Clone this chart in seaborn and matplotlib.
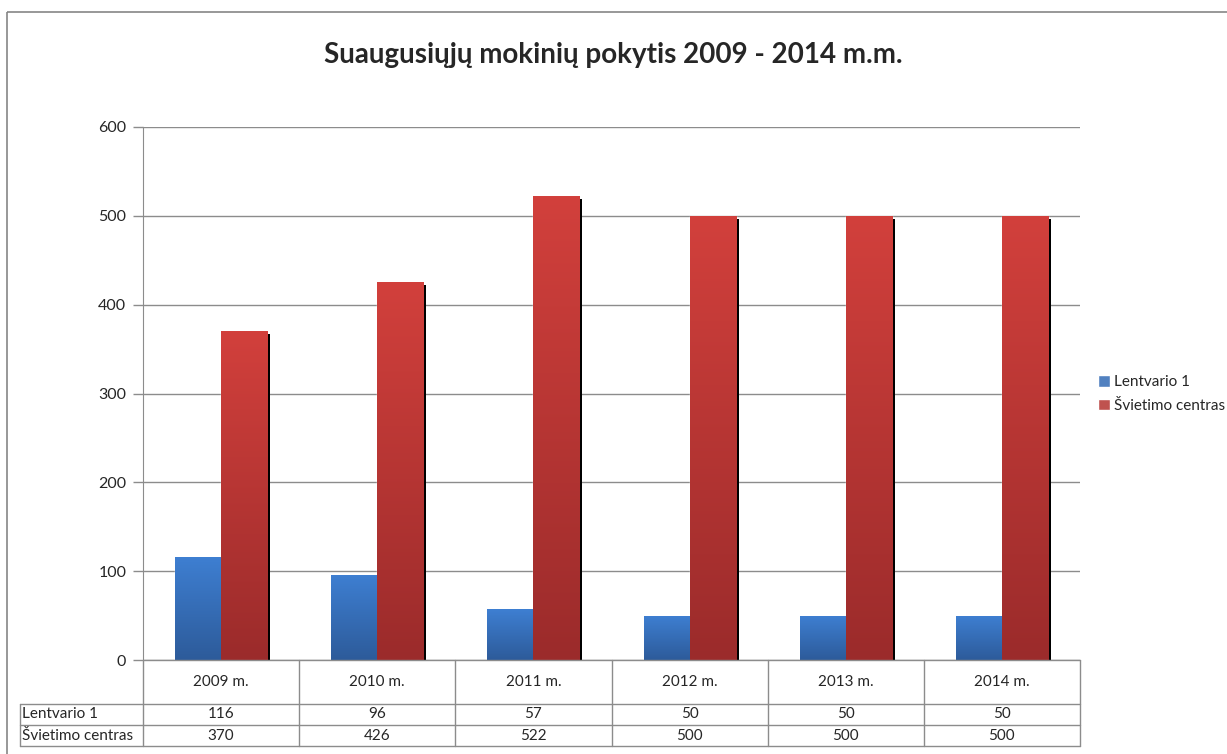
import numpy as np
import pandas as pd
import matplotlib
matplotlib.use("Agg")
import matplotlib.pyplot as plt
import matplotlib.transforms as mtransforms
from matplotlib.colors import LinearSegmentedColormap
from matplotlib.patches import Rectangle
from matplotlib.lines import Line2D
import seaborn as sns

# Data
years = ["2009 m.", "2010 m.", "2011 m.", "2012 m.", "2013 m.", "2014 m."]
series = ["Lentvario 1", "Švietimo centras"]
lentvario = [116, 96, 57, 50, 50, 50]
svietimo = [370, 426, 522, 500, 500, 500]

df = pd.DataFrame({
    "year": years * 2,
    "series": [series[0]] * len(years) + [series[1]] * len(years),
    "value": lentvario + svietimo,
})

sns.set_style("white")
plt.rcParams["font.family"] = ["Lato", "DejaVu Sans"]

W, H = 1227, 754
fig = plt.figure(figsize=(W / 100, H / 100), dpi=100)
L, R, T, B = 143, 1080, 127, 660
ax = fig.add_axes([L / W, 1 - B / H, (R - L) / W, (B - T) / H])

# pixel coords (top-left origin) -> figure
px = mtransforms.Affine2D().scale(1 / W, -1 / H).translate(0, 1) + fig.transFigure
grid_col = "#8c8c8c"

# outer chart frame
fig.patches.append(Rectangle((7, 12), 1300, 800, transform=px, fill=False,
                             edgecolor="#868686", linewidth=1.2))

blue_top, blue_bot = "#3e7fd2", "#2d5b9a"
red_top, red_bot = "#d2403c", "#9b2b2b"

sns.barplot(data=df, x="year", y="value", hue="series", ax=ax, width=0.59,
            palette=[blue_top, red_top], legend=True, zorder=3)

ax.set_yticks(range(0, 601, 100))
ax.yaxis.grid(True, color=grid_col, linewidth=1, zorder=0)
ax.set_axisbelow(True)
for s in ["top", "right", "bottom"]:
    ax.spines[s].set_visible(False)
ax.spines["left"].set_color(grid_col)
ax.tick_params(axis="y", length=7, width=1, color=grid_col, left=True, labelsize=11.5, pad=5)
ax.set_xticks([])
ax.set_xlabel("")
ax.set_ylabel("")

# gradient fills and shadows
n = len(years)
shift = ax.transData + mtransforms.ScaledTranslation(3 / 100, -3 / 100, fig.dpi_scale_trans)
for i, bar in enumerate(ax.patches[:2 * n]):
    top, bot = (blue_top, blue_bot) if i < n else (red_top, red_bot)
    cmap = LinearSegmentedColormap.from_list("g", [bot, top])
    x0, y0 = bar.get_x(), bar.get_y()
    w, h = bar.get_width(), bar.get_height()
    if i >= n:
        ax.add_patch(Rectangle((x0, y0), w, h, facecolor="black", edgecolor="none",
                               zorder=3.3, transform=shift))
    grad = np.linspace(0, 1, 256).reshape(-1, 1)
    im = ax.imshow(grad, cmap=cmap, origin="lower", aspect="auto",
                   extent=[x0, x0 + w, y0, y0 + h], zorder=3.5 if i >= n else 3.2)
    im.set_clip_path(bar)
ax.set_xlim(-0.5, n - 0.5)
ax.set_ylim(0, 600)

# legend
handles, labels = ax.get_legend_handles_labels()
ax.legend(handles, labels, loc="center left", bbox_to_anchor=(1092, 394),
          bbox_transform=px, frameon=False, fontsize=11, handlelength=0.75,
          handleheight=0.75, handletextpad=0.3, labelspacing=0.6, borderaxespad=0)

# data table drawn by hand
rows_y = [B, 704, 725, 746]
colw = (R - L) / n
def hline(y, x0, x1):
    fig.lines.append(Line2D([x0, x1], [y, y], transform=px, color=grid_col, lw=1))
def vline(x, y0, y1):
    fig.lines.append(Line2D([x, x], [y0, y1], transform=px, color=grid_col, lw=1))

hline(B, L, R)
for y in rows_y[1:]:
    hline(y, 20, R)
vline(20, 704, 746)
for k in range(n + 1):
    vline(L + k * colw, B, 746)

for k, yr in enumerate(years):
    cx = L + (k + 0.5) * colw
    fig.text(cx, (B + 704) / 2, yr, transform=px, ha="center", va="center", fontsize=11)
    fig.text(cx, (704 + 725) / 2, str(lentvario[k]), transform=px, ha="center", va="center", fontsize=11)
    fig.text(cx, (725 + 746) / 2, str(svietimo[k]), transform=px, ha="center", va="center", fontsize=11)
for j, name in enumerate(series):
    fig.text(22, (rows_y[j + 1] + rows_y[j + 2]) / 2, name, transform=px,
             ha="left", va="center", fontsize=11)

fig.text(0.5, 1 - 55 / H, "Suaugusiųjų mokinių pokytis 2009 - 2014 m.m.",
         ha="center", va="center", fontsize=20, fontweight="bold")

fig.savefig("out.png", dpi=100)
